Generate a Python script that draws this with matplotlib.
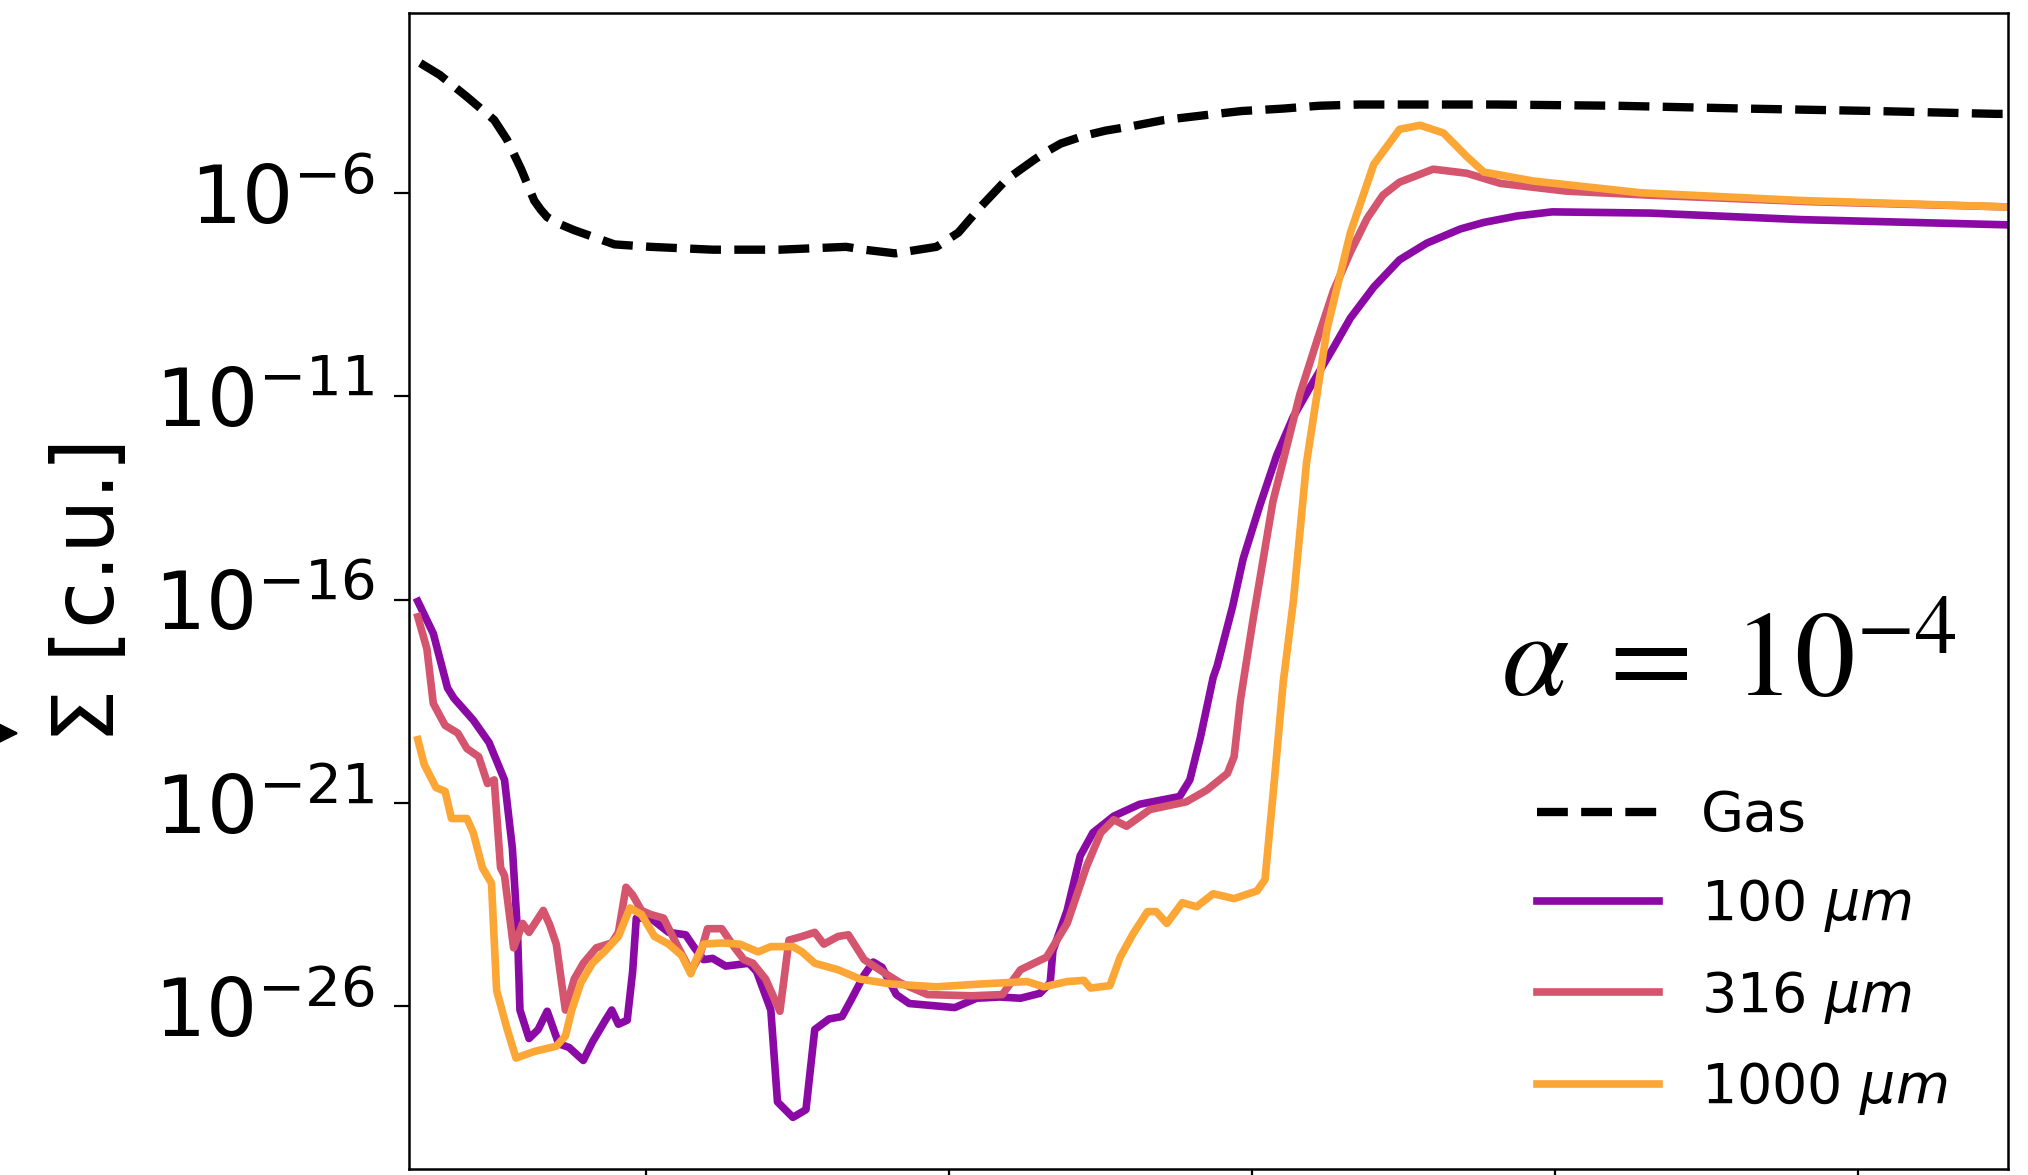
import numpy as np
import matplotlib
matplotlib.use("Agg")
import matplotlib.pyplot as plt
from matplotlib.ticker import NullLocator, FixedLocator
from matplotlib.patches import FancyArrowPatch

# x in arbitrary units (tick marks at 1..5), y given as log10(Sigma)
gas_x = [0.255, 0.319, 0.409, 0.499, 0.541, 0.588, 0.631, 0.652, 0.674, 0.712, 0.763,
         0.896, 1.015, 1.220, 1.442, 1.660, 1.720, 1.822, 1.959, 2.031, 2.104, 2.189,
         2.279, 2.317, 2.369, 2.445, 2.518, 2.599, 2.710, 2.847, 2.966, 3.103, 3.222,
         3.355, 3.564, 3.807, 4.204, 4.631, 5.058, 5.455, 5.498]
gas_e = [-2.80, -3.09, -3.63, -4.20, -4.68, -5.41, -6.18, -6.40, -6.59, -6.75, -6.91,
         -7.26, -7.32, -7.39, -7.39, -7.32, -7.39, -7.48, -7.32, -6.97, -6.34, -5.67,
         -5.19, -5.00, -4.78, -4.59, -4.46, -4.36, -4.20, -4.08, -3.98, -3.92, -3.85,
         -3.82, -3.82, -3.82, -3.85, -3.92, -3.98, -4.05, -4.05]

d100_x = [0.247, 0.298, 0.345, 0.366, 0.430, 0.482, 0.533, 0.559, 0.576, 0.584, 0.614,
          0.644, 0.674, 0.712, 0.746, 0.793, 0.823, 0.866, 0.887, 0.909, 0.938, 0.956,
          0.968, 1.015, 1.075, 1.131, 1.160, 1.190, 1.220, 1.263, 1.340, 1.365, 1.412,
          1.434, 1.485, 1.528, 1.557, 1.604, 1.647, 1.677, 1.720, 1.750, 1.779, 1.826,
          1.869, 1.959, 2.019, 2.091, 2.168, 2.236, 2.300, 2.334, 2.343, 2.390, 2.433,
          2.475, 2.544, 2.629, 2.761, 2.795, 2.830, 2.872, 2.885, 2.936, 2.971, 3.026,
          3.082, 3.137, 3.193, 3.269, 3.325, 3.402, 3.487, 3.577, 3.688, 3.765, 3.876,
          3.991, 4.315, 4.810, 5.498]
d100_e = [-16.04, -16.83, -18.17, -18.42, -18.96, -19.51, -20.43, -22.11, -24.18, -26.09,
          -26.79, -26.57, -26.12, -26.92, -27.01, -27.33, -26.88, -26.34, -26.09, -26.44,
          -26.34, -25.14, -23.83, -23.83, -24.18, -24.24, -24.56, -24.85, -24.82, -25.01,
          -24.94, -25.14, -26.09, -28.35, -28.73, -28.54, -26.57, -26.31, -26.25, -25.84,
          -25.23, -24.91, -25.04, -25.71, -25.93, -25.99, -26.03, -25.80, -25.77, -25.80,
          -25.68, -25.42, -24.63, -23.64, -22.30, -21.73, -21.32, -21.03, -20.84, -20.43,
          -19.38, -17.91, -17.63, -16.17, -14.99, -13.68, -12.44, -11.49, -10.76, -9.80,
          -9.07, -8.31, -7.64, -7.23, -6.88, -6.72, -6.56, -6.46, -6.49, -6.65, -6.78]

d316_x = [0.247, 0.277, 0.298, 0.337, 0.379, 0.409, 0.448, 0.477, 0.499, 0.520, 0.533,
          0.563, 0.593, 0.614, 0.661, 0.682, 0.704, 0.734, 0.763, 0.793, 0.836, 0.887,
          0.909, 0.934, 0.956, 0.985, 1.015, 1.058, 1.101, 1.148, 1.178, 1.203, 1.250,
          1.293, 1.323, 1.353, 1.395, 1.442, 1.472, 1.515, 1.557, 1.587, 1.634, 1.668,
          1.720, 1.779, 1.839, 1.929, 2.074, 2.176, 2.236, 2.322, 2.390, 2.454, 2.501,
          2.544, 2.586, 2.663, 2.783, 2.851, 2.919, 2.941, 2.962, 3.005, 3.069, 3.158,
          3.214, 3.269, 3.325, 3.380, 3.432, 3.487, 3.598, 3.709, 3.820, 4.038, 4.315,
          4.845, 5.498]
d316_e = [-16.42, -17.21, -18.55, -19.09, -19.28, -19.66, -19.86, -20.52, -20.43, -22.59,
          -22.78, -24.56, -23.96, -24.18, -23.64, -23.99, -24.47, -26.09, -25.33, -24.94,
          -24.56, -24.44, -24.18, -23.07, -23.26, -23.64, -23.74, -23.83, -24.47, -25.14,
          -24.75, -24.09, -24.09, -24.56, -24.85, -24.94, -25.33, -26.12, -24.37, -24.28,
          -24.18, -24.47, -24.28, -24.24, -24.85, -25.14, -25.42, -25.71, -25.74, -25.71,
          -25.10, -24.79, -23.96, -22.56, -21.73, -21.41, -21.57, -21.16, -20.97, -20.68,
          -20.27, -19.86, -18.46, -16.42, -13.59, -10.95, -9.64, -8.40, -7.45, -6.62,
          -6.05, -5.73, -5.41, -5.51, -5.76, -5.95, -6.05, -6.21, -6.34]

d1000_x = [0.247, 0.268, 0.307, 0.337, 0.358, 0.409, 0.430, 0.460, 0.490, 0.507, 0.541,
           0.571, 0.631, 0.704, 0.734, 0.755, 0.785, 0.823, 0.866, 0.909, 0.947, 0.985,
           1.028, 1.075, 1.118, 1.148, 1.160, 1.190, 1.250, 1.310, 1.370, 1.412, 1.485,
           1.515, 1.557, 1.634, 1.707, 1.809, 1.959, 2.104, 2.258, 2.313, 2.390, 2.445,
           2.467, 2.531, 2.565, 2.608, 2.655, 2.684, 2.719, 2.770, 2.817, 2.872, 2.941,
           3.017, 3.043, 3.073, 3.103, 3.137, 3.180, 3.248, 3.325, 3.402, 3.487, 3.555,
           3.632, 3.709, 3.765, 3.927, 4.281, 4.810, 5.498]
d1000_e = [-19.44, -20.05, -20.62, -20.71, -21.38, -21.38, -21.73, -22.59, -22.97, -25.61,
           -26.54, -27.27, -27.11, -26.98, -26.73, -26.09, -25.42, -24.94, -24.63, -24.28,
           -23.58, -23.74, -24.28, -24.47, -24.75, -25.20, -24.94, -24.47, -24.44, -24.47,
           -24.66, -24.53, -24.53, -24.66, -24.94, -25.10, -25.33, -25.45, -25.52, -25.45,
           -25.39, -25.52, -25.39, -25.36, -25.55, -25.49, -24.79, -24.21, -23.67, -23.67,
           -23.96, -23.45, -23.55, -23.23, -23.35, -23.16, -22.88, -20.52, -18.04, -16.01,
           -12.63, -9.33, -6.97, -5.29, -4.43, -4.33, -4.52, -5.10, -5.48, -5.70, -5.99,
           -6.18, -6.34]

labels = ['Gas', r'100 $\mu m$', r'316 $\mu m$', r'1000 $\mu m$']
colors = ['black', '#8b0aa5', '#d5546e', '#fca636']
x_ticks = [1, 2, 3, 4, 5]
y_ticks = [1e-6, 1e-11, 1e-16, 1e-21, 1e-26]

fig = plt.figure(figsize=(20.28, 11.75), dpi=100)
ax = fig.add_axes([0.2017, 0.0051, 0.7884, 0.9838])

ax.plot(gas_x, 10.0 ** np.array(gas_e), '--', color=colors[0], lw=6, label=labels[0])
ax.plot(d100_x, 10.0 ** np.array(d100_e), color=colors[1], lw=5.5, label=labels[1])
ax.plot(d316_x, 10.0 ** np.array(d316_e), color=colors[2], lw=5.5, label=labels[2])
ax.plot(d1000_x, 10.0 ** np.array(d1000_e), color=colors[3], lw=5.5, label=labels[3])

ax.set_yscale('log')
ax.set_xlim(0.218, 5.495)
ax.set_ylim(10 ** -30.0, 10 ** -1.57)
ax.yaxis.set_major_locator(FixedLocator(y_ticks))
ax.yaxis.set_minor_locator(NullLocator())
ax.set_xticks(x_ticks)
ax.tick_params(axis='x', labelbottom=False, length=11, width=1.6)
ax.tick_params(axis='y', labelsize=58, length=11, width=1.6, pad=14)
for sp in ax.spines.values():
    sp.set_linewidth(1.8)

fig.text(0.0444, 0.4945, r'$\Sigma$ [c.u.]', rotation=90, fontsize=62,
         ha='center', va='center')

ax.text(0.683, 0.4092, r'$\alpha\;=\;10^{-4}$', transform=ax.transAxes,
        fontsize=87, math_fontfamily='stix', ha='left', va='baseline')

ax.legend(loc='upper left', bbox_to_anchor=(0.7054, 0.3287), frameon=False,
          fontsize=40, handlelength=2.2, handletextpad=0.75, labelspacing=0.62,
          borderpad=0, borderaxespad=0)

fig.add_artist(FancyArrowPatch((-0.05, 0.376), (0.0094, 0.376),
                               transform=fig.transFigure, arrowstyle='-|>',
                               mutation_scale=60, color='black', lw=2,
                               shrinkA=0, shrinkB=0))

fig.savefig('out.png', dpi=100)
